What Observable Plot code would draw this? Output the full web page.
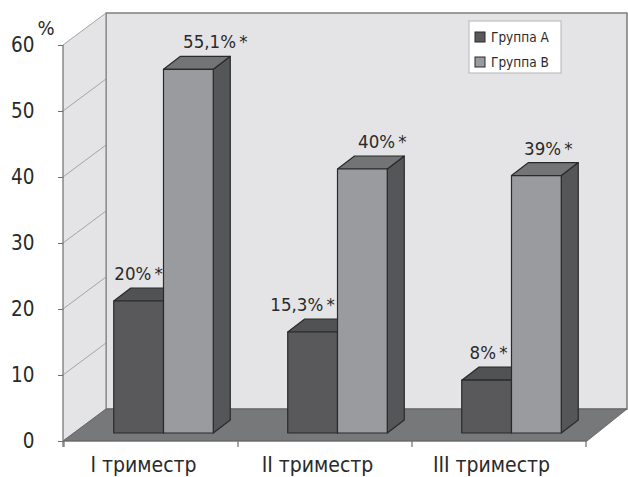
<!DOCTYPE html>
<html><head><meta charset="utf-8">
<script src="https://cdn.jsdelivr.net/npm/d3@7"></script>
<script src="https://cdn.jsdelivr.net/npm/@observablehq/plot@0.6"></script>
<style>body{margin:0;background:#fff}#chart{width:628px;height:477px}</style>
</head><body><div id="chart"></div>
<script>
// ---- data ----
const categories = ["I триместр", "II триместр", "III триместр"];
const groups = ["Группа А", "Группа В"];
const groupA = [20, 15.3, 8];
const groupB = [55.1, 40, 39];
const labelsA = ["20%\u2009*", "15,3%\u2009*", "8%\u2009*"];
const labelsB = ["55,1%\u2009*", "40%\u2009*", "39%\u2009*"];
const yTicks = [0, 10, 20, 30, 40, 50, 60];

// ---- layout / style ----
const FONT = '"Liberation Sans Narrow","DejaVu Sans Condensed","Arial Narrow","Liberation Sans",sans-serif';
const DEPTH = [43, -32];        // full depth of the box (px)
const BAR_OFF = [12.5, -8];     // bar front plane offset
const BAR_DEPTH = [17, -13];    // bar thickness
const BAR_W = 0.286;            // bar width as fraction of band
const labelNudgeA = [0, -10, 2];
const labelNudgeB = [27, 20, 12];
const fills = [{front:"#59595b", top:"#515254", side:"#4c4d4f"}, {front:"#9a9b9e", top:"#737476", side:"#555658"}];

const bars = categories.flatMap((c, i) => [
  {cat: c, k: 0, value: groupA[i], label: labelsA[i], nudge: labelNudgeA[i]},
  {cat: c, k: 1, value: groupB[i], label: labelsB[i], nudge: labelNudgeB[i]}
]);

function scene(index, scales, values, dims) {
  const {x, y} = scales;
  const g = d3.create("svg:g");
  const L = dims.marginLeft, R = dims.width - dims.marginRight;
  const y0 = y(0), yTop = y(yTicks[yTicks.length - 1]);
  const [DX, DY] = DEPTH;
  const pts = a => a.map(p => p.join(",")).join(" ");
  const poly = (a, fill, stroke, sw) => g.append("polygon").attr("points", pts(a))
    .attr("fill", fill).attr("stroke", stroke || "none").attr("stroke-width", sw || 0).attr("stroke-linejoin", "round");
  const line = (x1, y1, x2, y2, stroke, sw) => g.append("line").attr("x1", x1).attr("y1", y1).attr("x2", x2).attr("y2", y2)
    .attr("stroke", stroke).attr("stroke-width", sw);

  // back wall
  poly([[L + DX, yTop + DY], [R + DX - 3, yTop + DY], [R + DX - 3, y0 + DY], [L + DX, y0 + DY]], "#e4e4e6", "#808080", 1.6);
  // left wall
  poly([[L, yTop], [L + DX, yTop + DY], [L + DX, y0 + DY], [L, y0]], "#e4e4e6", "none");
  for (const t of yTicks) line(L, y(t), L + DX, y(t) + DY, "#9c9c9c", 0.9);
  line(L + DX, yTop + DY, L + DX, y0 + DY, "#8a8a8a", 1.2);
  // floor
  poly([[L, y0], [R, y0], [R + DX - 3, y0 + DY], [L + DX, y0 + DY]], "#77787a", "#5a5a5a", 0.8);
  // axes lines & ticks
  line(L, yTop, L, y0 + 6, "#6e6e6e", 1.2);
  line(L, y0, R, y0, "#6e6e6e", 1.2);
  const bw = x.bandwidth ? x.bandwidth() : (R - L) / categories.length;
  const bounds = categories.map(c => x(c)).concat([x(categories[categories.length - 1]) + bw]);
  for (const b of bounds) line(b, y0, b, y0 + 6, "#6e6e6e", 1.2);

  // bars
  const [ox, oy] = BAR_OFF, [bx, by] = BAR_DEPTH;
  const w = bw * BAR_W;
  const lab = [];
  for (const d of bars) {
    const cx = x(d.cat) + bw / 2 + ox;
    const x0 = cx - w + d.k * w, x1 = x0 + w;
    const yb = y0 + oy, yt = y(d.value) + oy;
    const f = fills[d.k];
    poly([[x1, yt], [x1 + bx, yt + by], [x1 + bx, yb + by], [x1, yb]], f.side, "#2a2a2a", 1.2);
    poly([[x0, yt], [x1, yt], [x1 + bx, yt + by], [x0 + bx, yt + by]], f.top, "#2a2a2a", 1.2);
    poly([[x0, yt], [x1, yt], [x1, yb], [x0, yb]], f.front, "#2a2a2a", 1.2);
    lab.push({x: (x0 + x1) / 2 + d.nudge, y: yt - 21, t: d.label});
  }
  for (const l of lab) g.append("text").attr("x", l.x).attr("y", l.y).attr("text-anchor", "middle")
    .attr("font-size", 18.5).attr("font-family", FONT).attr("fill", "#2a2a2a").text(l.t);

  // legend
  const lx = R + DX - 161, ly = yTop + DY + 8;
  g.append("rect").attr("x", lx).attr("y", ly).attr("width", 92).attr("height", 52)
    .attr("fill", "#fff").attr("stroke", "#b4b4b4").attr("stroke-width", 1);
  groups.forEach((name, k) => {
    const yy = ly + 16 + k * 25;
    g.append("rect").attr("x", lx + 6).attr("y", yy - 5).attr("width", 10).attr("height", 10)
      .attr("fill", fills[k].front).attr("stroke", "#2a2a2a").attr("stroke-width", 1);
    g.append("text").attr("x", lx + 22).attr("y", yy).attr("dy", "0.35em").attr("text-anchor", "start")
      .attr("font-size", 13.5).attr("font-family", FONT).attr("fill", "#2a2a2a").text(name);
  });
  return g.node();
}

const chart = Plot.plot({
  width: 628, height: 477,
  marginTop: 45, marginBottom: 36, marginLeft: 63, marginRight: 41,
  style: {fontFamily: FONT, color: "#2a2a2a", background: "#fff"},
  x: {type: "band", domain: categories, padding: 0},
  y: {domain: [0, 60]},
  marks: [
    scene,
    Plot.axisY({ticks: yTicks, tickSize: 5, tickPadding: 24, stroke: "#6e6e6e", fill: "#2a2a2a", fontSize: 20.5, label: null, tickFormat: d => String(d)}),
    Plot.axisX({tickSize: 0, tickPadding: 16, fontSize: 21, label: null, dx: -8, fill: "#2a2a2a"}),
    Plot.text(["%"], {frameAnchor: "top-left", dx: -26, dy: -25, fontSize: 20, fill: "#2a2a2a"})
  ]
});
document.getElementById("chart").append(chart);
</script>
</body></html>
